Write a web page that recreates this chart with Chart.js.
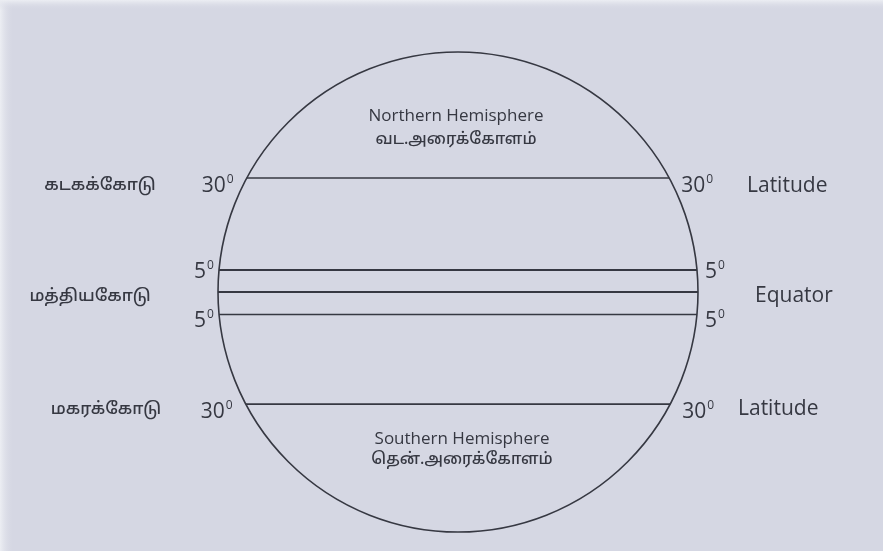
<!DOCTYPE html>
<html>
<head>
<meta charset="utf-8">
<script src="https://cdn.jsdelivr.net/npm/chart.js@4.4.1/dist/chart.umd.min.js"></script>
<style>
  html, body { margin: 0; padding: 0; background: #d5d7e3; }
  #wrap { width: 883px; height: 551px; position: relative; }
</style>
</head>
<body>
<div id="wrap"><canvas id="c"></canvas></div>
<script>
// ---- data ----
const latitudeDegrees = [30, 5, 0, -5, -30];
// vertical position of each parallel, as a fraction of the globe radius
const linePositions = [0.475, 0.092, 0, -0.094, -0.467];
const lineWidths = [1.6, 2.0, 2.2, 1.4, 1.8];
const degreeLabels = ['30', '5', '', '5', '30'];
const tamilLineNames = ['கடகக்கோடு', 'மத்தியகோடு', 'மகரக்கோடு'];
const englishLineNames = ['Latitude', 'Equator', 'Latitude'];
const hemisphereLabels = [
  ['Northern Hemisphere', 'வட.அரைக்கோளம்'],
  ['Southern Hemisphere', 'தென்.அரைக்கோளம்']
];

const ink = '#363842';

const datasets = linePositions.map((p, i) => {
  const half = Math.sqrt(1 - p * p);
  return {
    label: String(latitudeDegrees[i]),
    data: [{x: -half, y: p}, {x: half, y: p}],
    borderColor: ink,
    borderWidth: lineWidths[i],
    pointRadius: 0,
    showLine: true,
    fill: false
  };
});

const bgPlugin = {
  id: 'bg',
  beforeDraw(chart) {
    const {ctx, width, height} = chart;
    ctx.save();
    ctx.fillStyle = '#d5d7e3';
    ctx.fillRect(0, 0, width, height);
    const g = ctx.createLinearGradient(0, 0, 14, 0);
    g.addColorStop(0, '#eceef3');
    g.addColorStop(1, 'rgba(213,215,227,0)');
    ctx.fillStyle = g;
    ctx.fillRect(0, 0, 14, height);
    const g2 = ctx.createLinearGradient(0, 0, 0, 10);
    g2.addColorStop(0, '#eceef3');
    g2.addColorStop(1, 'rgba(213,215,227,0)');
    ctx.fillStyle = g2;
    ctx.fillRect(0, 0, width, 10);
    ctx.restore();
  }
};

const globePlugin = {
  id: 'globe',
  afterDatasetsDraw(chart) {
    const {ctx} = chart;
    const xs = chart.scales.x, ys = chart.scales.y;
    const cx = xs.getPixelForValue(0), cy = ys.getPixelForValue(0);
    const rx = xs.getPixelForValue(1) - cx;
    const ry = cy - ys.getPixelForValue(1);
    ctx.save();
    ctx.strokeStyle = ink;
    ctx.lineWidth = 1.6;
    ctx.beginPath();
    ctx.ellipse(cx, cy, rx, ry, 0, 0, Math.PI * 2);
    ctx.stroke();

    ctx.fillStyle = ink;
    ctx.textBaseline = 'alphabetic';
    const deg = (txt, x, y, size) => {
      ctx.font = size + 'px "Open Sans", sans-serif';
      ctx.textAlign = 'left';
      ctx.fillText(txt, x, y);
      const w = ctx.measureText(txt).width;
      ctx.font = Math.round(size * 0.55) + 'px "Open Sans", sans-serif';
      ctx.fillText('0', x + w + 1, y - size * 0.42);
    };
    // degree labels
    linePositions.forEach((p, i) => {
      if (!degreeLabels[i]) return;
      const half = Math.sqrt(1 - p * p);
      const y = ys.getPixelForValue(p);
      const xl = xs.getPixelForValue(-half);
      const xr = xs.getPixelForValue(half);
      const txt = degreeLabels[i];
      ctx.font = '21px "Open Sans", sans-serif';
      const w = ctx.measureText(txt).width + 9;
      let dy;
      if (Math.abs(p) > 0.3) dy = 14; else dy = (p > 0 ? 8 : 12);
      if (Math.abs(p) > 0.3) {
        deg(txt, xl - w - 12, y + dy, 21);
        deg(txt, xr + 12, y + dy, 21);
      } else {
        deg(txt, xl - w - 4, y + dy, 21);
        deg(txt, xr + 8, y + dy, 21);
      }
    });
    // side names
    const nameRows = [linePositions[0], linePositions[2], linePositions[4]];
    nameRows.forEach((p, i) => {
      const y = ys.getPixelForValue(p);
      ctx.font = '500 17px "Noto Sans Tamil", "Noto Sans", sans-serif';
      ctx.textAlign = 'center';
      ctx.fillText(tamilLineNames[i], [100, 90, 106][i], y + [12, 9, 10][i]);
      ctx.font = '500 21px "Open Sans", sans-serif';
      ctx.textAlign = 'left';
      ctx.fillText(englishLineNames[i], [747, 755, 738][i], y + [14, 10, 11][i]);
    });
    // hemisphere labels
    ctx.textAlign = 'center';
    const hy = [[121, 144], [444, 464]];
    const hx = [456, 462];
    hemisphereLabels.forEach((pair, i) => {
      ctx.font = '500 17px "Open Sans", sans-serif';
      ctx.fillText(pair[0], hx[i], hy[i][0]);
      ctx.font = '500 16px "Noto Sans Tamil", "Noto Sans", sans-serif';
      ctx.fillText(pair[1], hx[i], hy[i][1]);
    });
    ctx.restore();
  }
};

new Chart(document.getElementById('c'), {
  type: 'scatter',
  data: { datasets },
  options: {
    responsive: true,
    maintainAspectRatio: false,
    animation: false,
    layout: { padding: 0, autoPadding: false },
    plugins: { legend: { display: false }, tooltip: { enabled: false } },
    scales: {
      x: { type: 'linear', display: false, min: -458 / 240, max: 425 / 240 },
      y: { type: 'linear', display: false, min: -259 / 240, max: 292 / 240 }
    }
  },
  plugins: [bgPlugin, globePlugin]
});
</script>
</body>
</html>
